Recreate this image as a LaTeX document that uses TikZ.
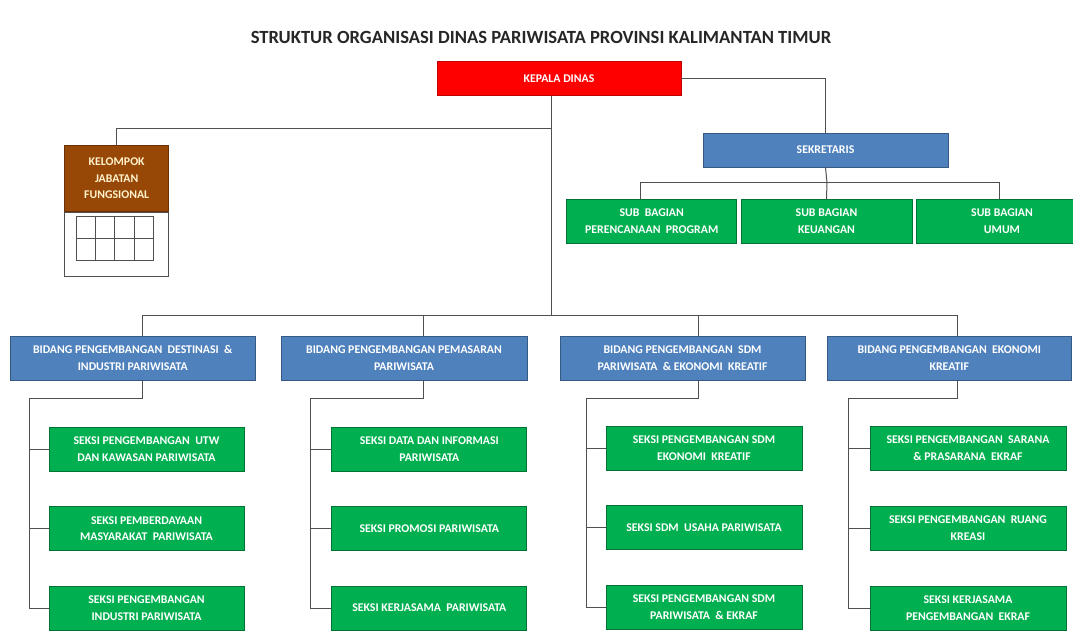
\documentclass[tikz,border=0pt]{standalone}
\usepackage{fontspec}
\setmainfont{Carlito}
\definecolor{kred}{HTML}{FF0000}
\definecolor{kblue}{HTML}{4F81BD}
\definecolor{kgreen}{HTML}{00B050}
\definecolor{kbrown}{HTML}{984806}
\definecolor{kline}{HTML}{505050}
\definecolor{kcream}{HTML}{FFF2CC}
\tikzset{
  box/.style={rectangle, inner sep=0pt, align=center, text=white,
    font=\bfseries\fontsize{11.8}{16.5}\selectfont, line width=0.8pt},
  redbox/.style={box, fill=kred, draw=kred!75!black},
  bluebox/.style={box, fill=kblue, draw=kblue!70!black},
  greenbox/.style={box, fill=kgreen, draw=kgreen!65!black},
  brownbox/.style={box, fill=kbrown, draw=kbrown!70!black, text=kcream},
  conn/.style={draw=kline, line width=1pt},
}
\begin{document}
\begin{tikzpicture}[x=1pt,y=-1pt]
\clip (0,0) rectangle (1073,630);
\fill[white] (0,0) rectangle (1073,630);

\node[font=\bfseries\fontsize{18.6}{22}\selectfont, text=black!85] (title) at (541,37)
  {STRUKTUR ORGANISASI DINAS PARIWISATA PROVINSI KALIMANTAN TIMUR};

% top level
\node[redbox, minimum width=244pt, minimum height=34pt] (kepala) at (559,78.7) {KEPALA DINAS};

\node[brownbox, minimum width=104pt, minimum height=66pt, anchor=north] (kel) at (116.7,145)
  {KELOMPOK\\JABATAN\\FUNGSIONAL};
\node[box, draw=kline, fill=white, minimum width=104pt, minimum height=64pt, anchor=north, line width=0.8pt] (kelbody) at (kel.south) {};
\draw[draw=kline, line width=0.8pt] (76.4,216.7) rectangle (153.2,260);
\draw[draw=kline, line width=0.8pt] (76.4,238.3) -- (153.2,238.3)
  (95.6,216.7) -- (95.6,260) (114.8,216.7) -- (114.8,260) (134,216.7) -- (134,260);

\node[bluebox, minimum width=245pt, minimum height=34pt] (sek) at (825.5,150) {SEKRETARIS};

\node[greenbox, minimum width=170pt, minimum height=44pt] (sub1) at (651.7,221.3) {SUB\ \ BAGIAN\\PERENCANAAN\ \ PROGRAM};
\node[greenbox, minimum width=171pt, minimum height=44pt] (sub2) at (826.5,221.3) {SUB BAGIAN\\KEUANGAN};
\node[greenbox, minimum width=171pt, minimum height=44pt] (sub3) at (1002,221.3) {SUB BAGIAN\\UMUM};

% bidang
\node[bluebox, minimum width=245.5pt, minimum height=44pt] (b1) at (132.75,358) {BIDANG PENGEMBANGAN\ \ DESTINASI\ \ \&\\INDUSTRI PARIWISATA};
\node[bluebox, minimum width=246pt, minimum height=44pt] (b2) at (404,358) {BIDANG PENGEMBANGAN PEMASARAN\\PARIWISATA};
\node[bluebox, minimum width=245pt, minimum height=44pt] (b3) at (682.5,358) {BIDANG PENGEMBANGAN\ \ SDM\\PARIWISATA\ \ \& EKONOMI\ \ KREATIF};
\node[bluebox, minimum width=244.7pt, minimum height=44pt] (b4) at (949.3,358) {BIDANG PENGEMBANGAN\ \ EKONOMI\\KREATIF};

% seksi
\node[greenbox, minimum width=195pt, minimum height=44pt] (s11) at (146.5,449) {SEKSI PENGEMBANGAN\ \ UTW\\DAN KAWASAN PARIWISATA};
\node[greenbox, minimum width=195pt, minimum height=44pt] (s12) at (146.5,528.5) {SEKSI PEMBERDAYAAN\\MASYARAKAT\ \ PARIWISATA};
\node[greenbox, minimum width=195pt, minimum height=44pt] (s13) at (146.5,608) {SEKSI PENGEMBANGAN\\INDUSTRI PARIWISATA};

\node[greenbox, minimum width=195pt, minimum height=44pt] (s21) at (429.3,449) {SEKSI DATA DAN INFORMASI\\PARIWISATA};
\node[greenbox, minimum width=195pt, minimum height=44pt] (s22) at (429.3,528.5) {SEKSI PROMOSI PARIWISATA};
\node[greenbox, minimum width=195pt, minimum height=44pt] (s23) at (429.3,608) {SEKSI KERJASAMA\ \ PARIWISATA};

\node[greenbox, minimum width=196pt, minimum height=44pt] (s31) at (704,448) {SEKSI PENGEMBANGAN SDM\\EKONOMI\ \ KREATIF};
\node[greenbox, minimum width=196pt, minimum height=44pt] (s32) at (704,527.5) {SEKSI SDM\ \ USAHA PARIWISATA};
\node[greenbox, minimum width=196pt, minimum height=44pt] (s33) at (704,607) {SEKSI PENGEMBANGAN SDM\\PARIWISATA\ \ \& EKRAF};

\node[greenbox, minimum width=196pt, minimum height=44pt] (s41) at (968,448) {SEKSI PENGEMBANGAN\ \ SARANA\\\& PRASARANA\ \ EKRAF};
\node[greenbox, minimum width=196pt, minimum height=44pt] (s42) at (968,528) {SEKSI PENGEMBANGAN\ \ RUANG\\KREASI};
\node[greenbox, minimum width=196pt, minimum height=44pt] (s43) at (968,608) {SEKSI KERJASAMA\\PENGEMBANGAN\ \ EKRAF};

% connectors
\coordinate (kj) at (551.5,128);
\coordinate (bus) at (551.5,315.7);
\draw[conn] ([xshift=-7.5pt]kepala.south) -- (bus);
\draw[conn] (kj) -| (kel.north);
\draw[conn] (kepala.east) -| (sek.north);

\coordinate (sb) at (827,182.7);
\draw[conn] (sek.south) -- (sb);
\draw[conn] ([xshift=-11.7pt]sub1.north) |- (sb) -| ([xshift=-3pt]sub3.north);
\draw[conn] (sb) -- (sub2.north);

\draw[conn] ([xshift=10pt]b1.north) |- (bus) -| ([xshift=8pt]b4.north);
\draw[conn] ([xshift=19.5pt]b2.north) -- ([xshift=19.5pt]b2.north |- bus);
\draw[conn] ([xshift=15.5pt]b3.north) -- ([xshift=15.5pt]b3.north |- bus);

% bidang 1
\coordinate (sp1) at (29,398);
\draw[conn] ([xshift=10pt]b1.south) |- (sp1) |- (s13.west);
\draw[conn] (sp1 |- s11.west) -- (s11.west);
\draw[conn] (sp1 |- s12.west) -- (s12.west);
% bidang 2
\coordinate (sp2) at (310,398);
\draw[conn] ([xshift=19.5pt]b2.south) |- (sp2) |- (s23.west);
\draw[conn] (sp2 |- s21.west) -- (s21.west);
\draw[conn] (sp2 |- s22.west) -- (s22.west);
% bidang 3
\coordinate (sp3) at (586,398);
\draw[conn] ([xshift=15.5pt]b3.south) |- (sp3) |- (s33.west);
\draw[conn] (sp3 |- s31.west) -- (s31.west);
\draw[conn] (sp3 |- s32.west) -- (s32.west);
% bidang 4
\coordinate (sp4) at (848,398);
\draw[conn] ([xshift=8pt]b4.south) |- (sp4) |- (s43.west);
\draw[conn] (sp4 |- s41.west) -- (s41.west);
\draw[conn] (sp4 |- s42.west) -- (s42.west);
\end{tikzpicture}
\end{document}
